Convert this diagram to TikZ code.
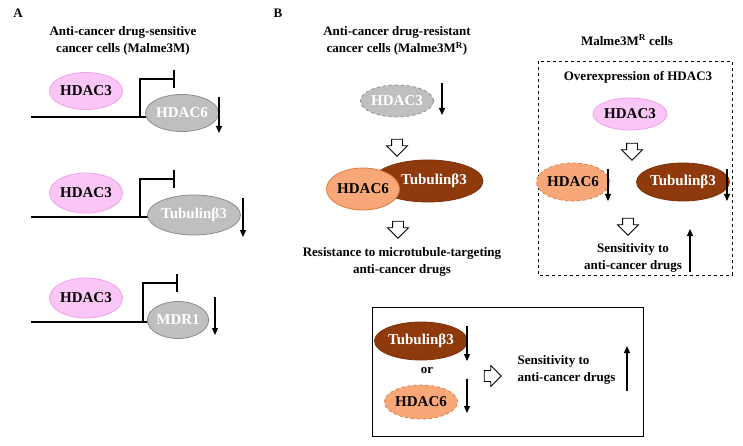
\documentclass[tikz,border=0pt]{standalone}
\usepackage{fontspec}
\setmainfont{Liberation Serif}
\usetikzlibrary{shapes.geometric, shapes.arrows, arrows.meta}

\definecolor{pinkfill}{HTML}{FAC6F6}
\definecolor{pinkline}{HTML}{EFA2EA}
\definecolor{grayfill}{HTML}{BFBFBF}
\definecolor{grayline}{HTML}{8C8C8C}
\definecolor{orangefill}{HTML}{F8A878}
\definecolor{orangeline}{HTML}{DC7A3E}
\definecolor{brownfill}{HTML}{8F3A0C}
\definecolor{brownline}{HTML}{7A3008}

\tikzset{
  prot/.style={ellipse, draw, inner sep=0pt, line width=0.8pt,
    font=\fontsize{15}{15}\selectfont\bfseries},
  pinkprot/.style={prot, fill=pinkfill, draw=pinkline},
  grayprot/.style={prot, fill=grayfill, draw=grayline, text=white},
  orangeprot/.style={prot, fill=orangefill, draw=orangeline},
  brownprot/.style={prot, fill=brownfill, draw=brownline, text=white},
  lbl/.style={font=\fontsize{13}{16.5}\selectfont\bfseries, align=center},
  down/.style={-{Triangle[length=7pt,width=6pt]}, line width=1.2pt},
  hollow/.style={single arrow, draw, fill=white, line width=0.8pt, inner sep=5pt,
    single arrow head extend=5pt, minimum height=17pt},
  dna/.style={line width=1.5pt},
  prom/.style={line width=2pt, -{Bar[width=18pt]}},
}

\begin{document}
\begin{tikzpicture}[x=1pt, y=-1pt]
  \useasboundingbox (0,0) rectangle (743,446);

  % panel letters
  \node[lbl] (letterA) at (18,13) {A};
  \node[lbl] (letterB) at (278,13) {B};

  % A: sensitive cells
  \node[lbl] (titleA) at (123,41) {Anti-cancer drug-sensitive\\cancer cells (Malme3M)};

  \coordinate (dnaA1) at (31,117);
  \coordinate (tssA1) at (140,117);
  \coordinate (stopA1) at (175,79);
  \draw[dna] (dnaA1) -- (152,117);
  \draw[prom] (tssA1) |- (stopA1);
  \node[pinkprot, minimum width=57pt, minimum height=37pt] (hdacA1) at (86,91) {HDAC3};
  \node[grayprot, minimum width=60pt, minimum height=37pt] (hdacsixA) at (182,113) {HDAC6};
  \coordinate (dnA1s) at (219,97);
  \coordinate (dnA1e) at (219,133);
  \draw[down] (dnA1s) -- (dnA1e);

  \coordinate (dnaA2) at (31,217);
  \coordinate (tssA2) at (140,217);
  \coordinate (stopA2) at (175,179);
  \draw[dna] (dnaA2) -- (156,217);
  \draw[prom] (tssA2) |- (stopA2);
  \node[pinkprot, minimum width=57pt, minimum height=40pt] (hdacA2) at (86,193) {HDAC3};
  \node[grayprot, minimum width=78pt, minimum height=40pt] (tubA) at (194,215) {Tubulinβ3};
  \coordinate (dnA2s) at (243,198);
  \coordinate (dnA2e) at (243,237);
  \draw[down] (dnA2s) -- (dnA2e);

  \coordinate (dnaA3) at (31,322);
  \coordinate (tssA3) at (143,322);
  \coordinate (stopA3) at (178,283);
  \draw[dna] (dnaA3) -- (151,322);
  \draw[prom] (tssA3) |- (stopA3);
  \node[pinkprot, minimum width=57pt, minimum height=40pt] (hdacA3) at (86,298) {HDAC3};
  \node[grayprot, minimum width=57pt, minimum height=37pt] (mdrA) at (178,320) {MDR1};
  \coordinate (dnA3s) at (215,297);
  \coordinate (dnA3e) at (215,335);
  \draw[down] (dnA3s) -- (dnA3e);

  % B: resistant cells
  \node[lbl] (titleB) at (397,41) {Anti-cancer drug-resistant\\cancer cells (Malme3M\textsuperscript{R})};
  \node[grayprot, dashed, minimum width=69pt, minimum height=32pt] (hdacB) at (397,101) {HDAC3};
  \coordinate (dnBs) at (442,83);
  \coordinate (dnBe) at (442,115);
  \draw[down] (dnBs) -- (dnBe);
  \node[hollow, rotate=-90] (hollowB1) at (397,145) {};
  \node[brownprot, minimum width=83pt, minimum height=42pt] (tubB) at (428,181) {\hspace*{12pt}Tubulinβ3};
  \node[orangeprot, minimum width=60pt, minimum height=42pt] (hdacsixB) at (363,189) {HDAC6};
  \node[hollow, rotate=-90] (hollowB2) at (398,227) {};
  \node[lbl] (resultB) at (402,262) {Resistance to microtubule-targeting\\anti-cancer drugs};

  % B: overexpression of HDAC3
  \node[lbl] (titleC) at (627,40) {Malme3M\textsuperscript{R} cells};
  \draw[dashed, line width=0.8pt] (538,61) rectangle (732,275);
  \node[lbl] (overC) at (638,77) {Overexpression of HDAC3};
  \node[pinkprot, minimum width=74pt, minimum height=32pt] (hdacC) at (630,114) {HDAC3};
  \node[hollow, rotate=-90] (hollowC1) at (632,149) {};
  \node[orangeprot, dashed, minimum width=60pt, minimum height=38pt] (hdacsixC) at (573,182) {HDAC6};
  \coordinate (dnC1s) at (608,169);
  \coordinate (dnC1e) at (608,201);
  \draw[down] (dnC1s) -- (dnC1e);
  \node[brownprot, minimum width=80pt, minimum height=38pt] (tubC) at (683,182) {Tubulinβ3};
  \coordinate (dnC2s) at (727,169);
  \coordinate (dnC2e) at (727,201);
  \draw[down] (dnC2s) -- (dnC2e);
  \node[hollow, rotate=-90] (hollowC2) at (628,224) {};
  \node[lbl] (sensC) at (633,258) {Sensitivity to\\anti-cancer drugs};
  \coordinate (upCs) at (690,272);
  \coordinate (upCe) at (690,229);
  \draw[down] (upCs) -- (upCe);

  % B: summary box
  \draw[line width=0.8pt] (372,307) rectangle (643,436);
  \node[brownprot, minimum width=78pt, minimum height=38pt] (tubD) at (421,341) {Tubulinβ3};
  \coordinate (dnD1s) at (467,326);
  \coordinate (dnD1e) at (467,361);
  \draw[down] (dnD1s) -- (dnD1e);
  \node[lbl] (orD) at (427,370) {or};
  \node[orangeprot, dashed, minimum width=67pt, minimum height=34pt] (hdacsixD) at (421,402) {HDAC6};
  \coordinate (dnD2s) at (467,379);
  \coordinate (dnD2e) at (467,413);
  \draw[down] (dnD2s) -- (dnD2e);
  \node[hollow] (hollowD) at (490,376) {};
  \node[lbl, align=left, anchor=west] (sensD) at (514,370) {Sensitivity to\\anti-cancer drugs};
  \coordinate (upDs) at (627,391);
  \coordinate (upDe) at (627,346);
  \draw[down] (upDs) -- (upDe);
\end{tikzpicture}
\end{document}
